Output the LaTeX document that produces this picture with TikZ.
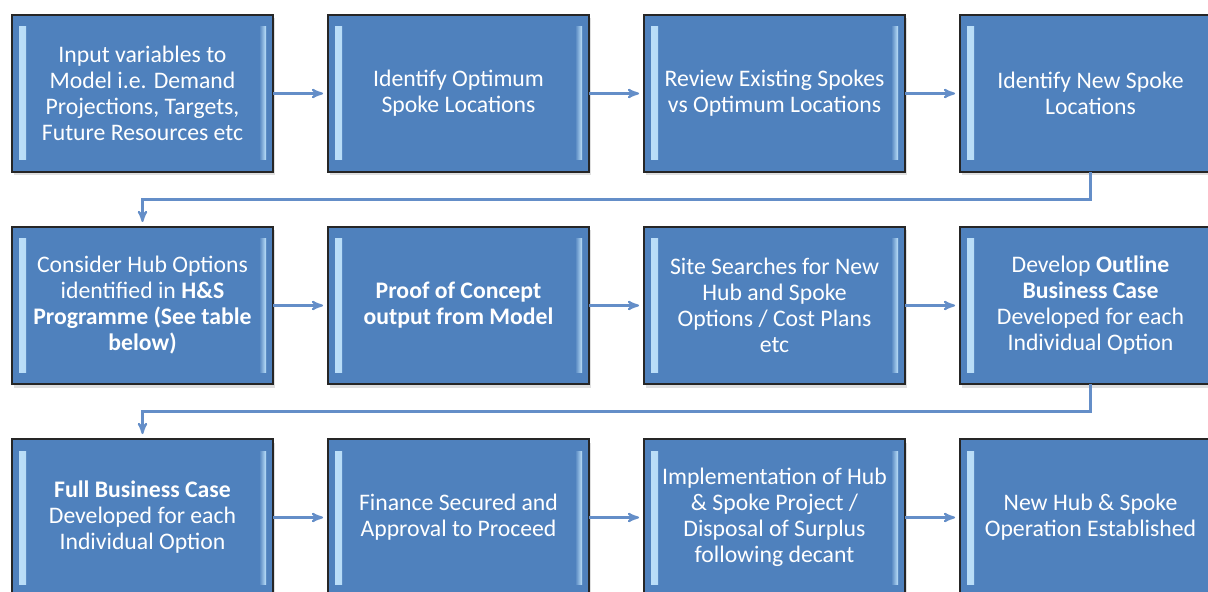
\documentclass[tikz,border=0pt]{standalone}
\usepackage{fontspec}
\setmainfont{Carlito}
\usepackage{tikz}
\usetikzlibrary{arrows,positioning,calc,shadows}
\definecolor{boxblue}{RGB}{79,129,189}
\definecolor{bevellight}{RGB}{190,225,250}
\definecolor{linkblue}{RGB}{100,142,200}
\tikzstyle{stage}=[draw=black!85,line width=1.1pt,fill=boxblue,rectangle,minimum width=5.22cm,minimum height=3.14cm,inner sep=2pt,outer sep=0pt,text=white,align=center,font=\fontsize{13.5}{14.8}\selectfont,drop shadow={shadow xshift=0.4mm,shadow yshift=-0.7mm,opacity=0.25},
  path picture={
    \shade[left color=bevellight,right color=boxblue] ([xshift=0.14cm,yshift=-0.24cm]path picture bounding box.north west) rectangle ([xshift=0.28cm,yshift=0.24cm]path picture bounding box.south west);
    \shade[right color=bevellight,left color=boxblue] ([xshift=-0.14cm,yshift=-0.24cm]path picture bounding box.north east) rectangle ([xshift=-0.28cm,yshift=0.24cm]path picture bounding box.south east);
  }]
\tikzstyle{flow}=[draw=linkblue,line width=1.2pt,->,>=stealth',shorten >=1mm]

\begin{document}
\begin{tikzpicture}[node distance=1.1cm]
\clip (0,0) rectangle (24.16,-11.84);
\node [stage] (s1) at (2.85,-1.87) {Input variables to\\Model i.e. Demand\\Projections, Targets,\\Future Resources etc};
\node [stage,right=of s1] (s2) {Identify Optimum\\Spoke Locations};
\node [stage,right=of s2] (s3) {Review Existing Spokes\\vs Optimum Locations};
\node [stage,right=of s3] (s4) {Identify New Spoke\\Locations};
\node [stage,below=of s1] (s5) {Consider Hub Options\\identified in \textbf{H\&S}\\\textbf{Programme (See table}\\\textbf{below)}};
\node [stage,right=of s5] (s6) {\textbf{Proof of Concept}\\\textbf{output from Model}};
\node [stage,right=of s6] (s7) {Site Searches for New\\Hub and Spoke\\Options / Cost Plans\\etc};
\node [stage,right=of s7] (s8) {Develop \textbf{Outline}\\\textbf{Business Case}\\Developed for each\\Individual Option};
\node [stage,below=of s5] (s9) {\textbf{Full Business Case}\\Developed for each\\Individual Option};
\node [stage,right=of s9] (s10) {Finance Secured and\\Approval to Proceed};
\node [stage,right=of s10] (s11) {Implementation of Hub\\\& Spoke Project /\\Disposal of Surplus\\following decant};
\node [stage,right=of s11] (s12) {New Hub \& Spoke\\Operation Established};

\draw [flow] (s1) -- (s2);
\draw [flow] (s2) -- (s3);
\draw [flow] (s3) -- (s4);
\draw [flow] (s4.south) |- ($(s4.south)!.5!(s5.north)$) -| (s5.north);
\draw [flow] (s5) -- (s6);
\draw [flow] (s6) -- (s7);
\draw [flow] (s7) -- (s8);
\draw [flow] (s8.south) |- ($(s8.south)!.5!(s9.north)$) -| (s9.north);
\draw [flow] (s9) -- (s10);
\draw [flow] (s10) -- (s11);
\draw [flow] (s11) -- (s12);
\end{tikzpicture}
\end{document}
